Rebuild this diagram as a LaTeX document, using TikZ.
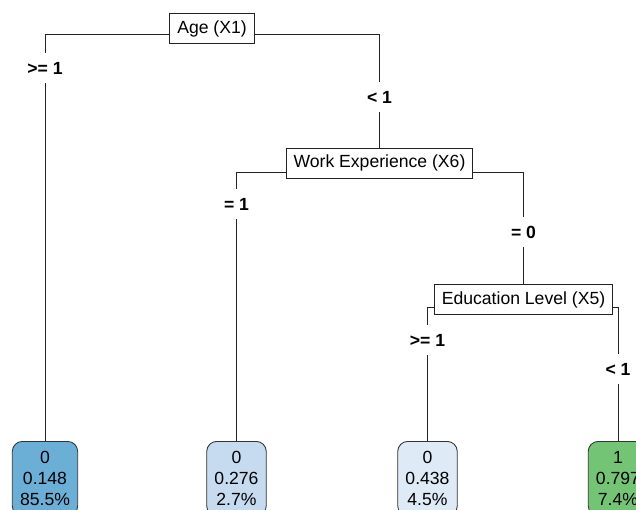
\documentclass[tikz,border=0pt]{standalone}
\usepackage{fontspec}
\setmainfont{Liberation Sans}
\begin{document}
\begin{tikzpicture}[x=0.75pt,y=0.75pt,yscale=-1,xscale=1,
  splitbox/.style={draw={rgb, 255:red, 34; green, 34; blue, 34 },fill={rgb, 255:red, 255; green, 255; blue, 255 },line width=0.65pt,inner xsep=5.6pt,inner ysep=0pt,minimum height=22pt,font=\fontsize{13.2}{15.8}\selectfont},
  splitlabel/.style={inner sep=0pt,minimum height=22.5pt,font=\bfseries\fontsize{13.2}{15.8}\selectfont},
  leafbox/.style={draw={rgb, 255:red, 51; green, 51; blue, 51 },line width=0.65pt,rounded corners=7.5pt,anchor=north,align=center,inner xsep=5.8pt,inner ysep=7.5pt,font=\fontsize{13.2}{15.8}\selectfont},
  branch/.style={color={rgb, 255:red, 34; green, 34; blue, 34 },line width=0.65pt}]
%set diagram left start at 0, and has height of 510
\useasboundingbox (0,0) rectangle (636,510);
\clip (0,0) rectangle (636,510);

%Shape: Rect [id:age]
\draw (212,28.5) node (age) [splitbox] {Age (X1)};
%Shape: Rect [id:work]
\draw (379.5,163.3) node (work) [splitbox] {Work Experience (X6)};
%Shape: Rect [id:edu]
\draw (523.5,299.5) node (edu) [splitbox] {Education Level (X5)};

% Text Node
\draw (45,68) node (lA) [splitlabel] {>= 1};
% Text Node
\draw (379.5,97) node (lB) [splitlabel] {< 1};
% Text Node
\draw (236.5,204) node (lC) [splitlabel] {= 1};
% Text Node
\draw (523.5,232) node (lD) [splitlabel] {= 0};
% Text Node
\draw (427.5,340) node (lE) [splitlabel] {>= 1};
% Text Node
\draw (618,369) node (lF) [splitlabel] {< 1};

%Rounded Rect [id:leafA]
\draw (45,441) node (leafA) [leafbox,fill={rgb, 255:red, 107; green, 174; blue, 214 }] {0\\0.148\\85.5\%};
%Rounded Rect [id:leafB]
\draw (236.5,441) node (leafB) [leafbox,fill={rgb, 255:red, 198; green, 219; blue, 239 }] {0\\0.276\\2.7\%};
%Rounded Rect [id:leafC]
\draw (427.5,441) node (leafC) [leafbox,fill={rgb, 255:red, 222; green, 235; blue, 247 }] {0\\0.438\\4.5\%};
%Rounded Rect [id:leafD]
\draw (618,441) node (leafD) [leafbox,fill={rgb, 255:red, 116; green, 196; blue, 118 }] {1\\0.797\\7.4\%};

%Straight Lines
\draw [branch] (age.west |- 0,34) -| (lA.north);
\draw [branch] (lA.south) -- (leafA.north);
\draw [branch] (age.east |- 0,34) -| (lB.north);
\draw [branch] (lB.south) -- (work.north);
\draw [branch] (work.west |- 0,172) -| (lC.north);
\draw [branch] (lC.south) -- (leafB.north);
\draw [branch] (work.east |- 0,172) -| (lD.north);
\draw [branch] (lD.south) -- (edu.north);
\draw [branch] (edu.west |- 0,307) -| (lE.north);
\draw [branch] (lE.south) -- (leafC.north);
\draw [branch] (edu.east |- 0,307) -| (lF.north);
\draw [branch] (lF.south) -- (leafD.north);
\end{tikzpicture}
\end{document}
